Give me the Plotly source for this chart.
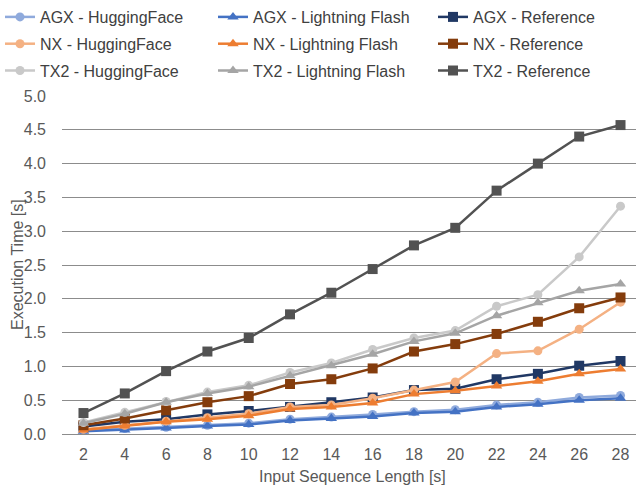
import plotly.graph_objects as go

x_vals = [2, 4, 6, 8, 10, 12, 14, 16, 18, 20, 22, 24, 26, 28]

agx_hf  = [0.05, 0.08, 0.10, 0.13, 0.16, 0.22, 0.25, 0.29, 0.33, 0.36, 0.43, 0.47, 0.54, 0.57]
agx_lf  = [0.04, 0.06, 0.09, 0.12, 0.14, 0.20, 0.23, 0.26, 0.31, 0.33, 0.40, 0.44, 0.50, 0.53]
agx_ref = [0.11, 0.18, 0.22, 0.29, 0.34, 0.40, 0.47, 0.54, 0.65, 0.67, 0.81, 0.89, 1.01, 1.08]
nx_hf   = [0.07, 0.13, 0.19, 0.24, 0.30, 0.40, 0.43, 0.53, 0.65, 0.77, 1.19, 1.23, 1.55, 1.95]
nx_lf   = [0.06, 0.12, 0.18, 0.22, 0.27, 0.37, 0.40, 0.46, 0.59, 0.64, 0.71, 0.78, 0.89, 0.96]
nx_ref  = [0.13, 0.23, 0.35, 0.47, 0.56, 0.74, 0.81, 0.97, 1.22, 1.33, 1.48, 1.66, 1.86, 2.02]
tx2_hf  = [0.17, 0.32, 0.48, 0.62, 0.72, 0.91, 1.05, 1.25, 1.42, 1.53, 1.89, 2.06, 2.62, 3.37]
tx2_lf  = [0.16, 0.30, 0.47, 0.60, 0.70, 0.86, 1.01, 1.18, 1.37, 1.49, 1.75, 1.94, 2.12, 2.22]
tx2_ref = [0.31, 0.60, 0.93, 1.22, 1.42, 1.77, 2.09, 2.44, 2.79, 3.05, 3.60, 4.00, 4.40, 4.57]

y_ticks = [0.0, 0.5, 1.0, 1.5, 2.0, 2.5, 3.0, 3.5, 4.0, 4.5, 5.0]

series = [
    ("AGX - HuggingFace", agx_hf, "#8faadc", "circle", "legend"),
    ("AGX - Lightning Flash", agx_lf, "#4472c4", "triangle-up", "legend2"),
    ("AGX - Reference", agx_ref, "#203864", "square", "legend3"),
    ("NX - HuggingFace", nx_hf, "#f4b183", "circle", "legend"),
    ("NX - Lightning Flash", nx_lf, "#ed7d31", "triangle-up", "legend2"),
    ("NX - Reference", nx_ref, "#843c0c", "square", "legend3"),
    ("TX2 - HuggingFace", tx2_hf, "#c9c9c9", "circle", "legend"),
    ("TX2 - Lightning Flash", tx2_lf, "#a5a5a5", "triangle-up", "legend2"),
    ("TX2 - Reference", tx2_ref, "#525252", "square", "legend3"),
]

FONT = "Liberation Sans, Arial, sans-serif"
fig = go.Figure()
for i, (name, vals, color, sym, leg) in enumerate(series):
    size = {"circle": 9, "triangle-up": 10, "square": 10}[sym]
    fig.add_trace(go.Scatter(
        x=x_vals, y=vals, name=name, mode="lines+markers",
        line=dict(color=color, width=2.5),
        marker=dict(symbol=sym, size=size, color=color, line=dict(width=0)),
        legend=leg, legendgroup=name,
    ))

W, H = 636, 487
L, R, T, B = 62, 0, 96, 53
pw = W - L - R
ph = H - T - B

def px_x(p):
    return (p - L) / pw

def px_y(p):
    return (H - B - p) / ph

leg_common = dict(
    font=dict(family=FONT, size=16, color="#404040"),
    bgcolor="rgba(0,0,0,0)", yanchor="top", xanchor="left",
    tracegroupgap=3, orientation="v", itemclick=False,
)

fig.update_layout(
    width=W, height=H, autosize=False,
    margin=dict(l=L, r=R, t=T, b=B),
    plot_bgcolor="white", paper_bgcolor="white",
    font=dict(family=FONT, size=16, color="#595959"),
    legend=dict(x=px_x(0), y=px_y(0), **leg_common),
    legend2=dict(x=px_x(213), y=px_y(0), **leg_common),
    legend3=dict(x=px_x(433), y=px_y(0), **leg_common),
    xaxis=dict(
        range=[0.96, 28.75], tickmode="array", tickvals=x_vals,
        ticktext=[str(v) for v in x_vals], showgrid=False, zeroline=False,
        showline=True, linecolor="#8c8c8c", linewidth=1, ticks="",
        ticklabelstandoff=6,
        tickfont=dict(family=FONT, size=16, color="#595959"),
    ),
    yaxis=dict(
        range=[0, 5], tickmode="array", tickvals=y_ticks,
        ticktext=[f"{v:.1f}" for v in y_ticks],
        showgrid=True, gridcolor="#8c8c8c", gridwidth=1,
        zeroline=False, showline=False, ticks="",
        ticklabelstandoff=15,
        tickfont=dict(family=FONT, size=16, color="#595959"),
    ),
    annotations=[
        dict(text="Input Sequence Length [s]", xref="paper", yref="paper",
             x=px_x(352), y=px_y(476), xanchor="center", yanchor="middle",
             showarrow=False, font=dict(family=FONT, size=16, color="#595959")),
        dict(text="Execution Time [s]", xref="paper", yref="paper",
             x=px_x(17), y=px_y(265), xanchor="center", yanchor="middle",
             textangle=-90, showarrow=False,
             font=dict(family=FONT, size=16, color="#595959")),
    ],
)

fig.write_html(
    "out.html",
    config={"displayModeBar": False},
    post_script="document.body.style.margin='0px';document.body.style.overflow='hidden';",
)
